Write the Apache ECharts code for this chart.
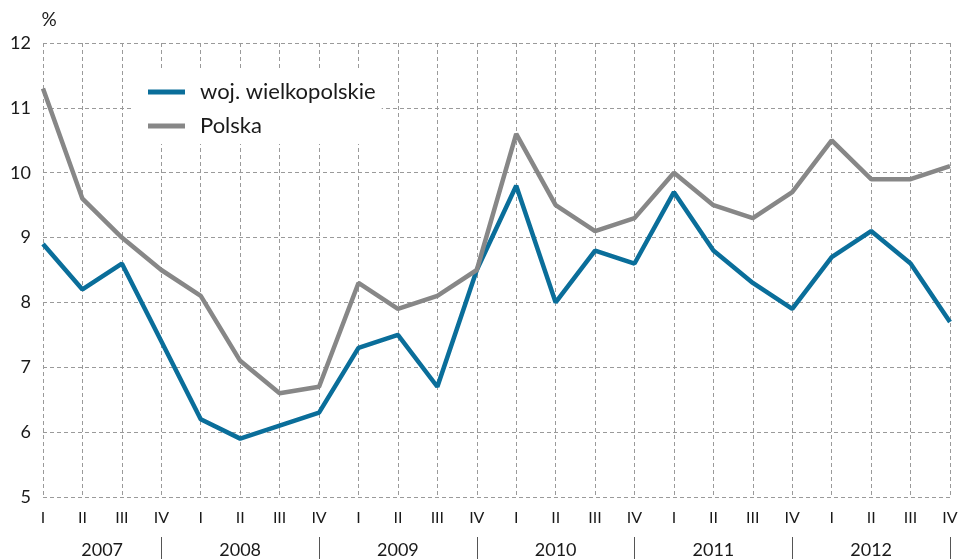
<!DOCTYPE html>
<html>
<head>
<meta charset="utf-8">
<script src="https://cdn.jsdelivr.net/npm/echarts@6/dist/echarts.min.js"></script>
<style>
  html, body { margin: 0; padding: 0; background: #fff; }
  #chart { width: 959px; height: 559px; }
</style>
</head>
<body>
<div id="chart"></div>
<script>
// quarters 2007 I - 2012 IV
var quarters = ['I', 'II', 'III', 'IV', 'I', 'II', 'III', 'IV', 'I', 'II', 'III', 'IV',
  'I', 'II', 'III', 'IV', 'I', 'II', 'III', 'IV', 'I', 'II', 'III', 'IV'];
var years = ['2007', '2008', '2009', '2010', '2011', '2012'];
// where each year label sits / where the separators are (in quarter index units)
var yearLabelPos = [1.5, 5, 9, 13, 17, 21];
var yearSepPos = [3, 7, 11, 15, 19, 23];

var wielkopolskie = [8.9, 8.2, 8.6, 7.4, 6.2, 5.9, 6.1, 6.3, 7.3, 7.5, 6.7, 8.5,
  9.8, 8.0, 8.8, 8.6, 9.7, 8.8, 8.3, 7.9, 8.7, 9.1, 8.6, 7.7];
var polska = [11.3, 9.6, 9.0, 8.5, 8.1, 7.1, 6.6, 6.7, 8.3, 7.9, 8.1, 8.5,
  10.6, 9.5, 9.1, 9.3, 10.0, 9.5, 9.3, 9.7, 10.5, 9.9, 9.9, 10.1];

var font = 'Lato, "Open Sans", sans-serif';
var txt = '#1a1a1a';
var chart = echarts.init(document.getElementById('chart'));

var option = {
  animation: false,
  textStyle: { fontFamily: font },
  grid: { left: 43, right: 9, top: 43, bottom: 62, outerBoundsMode: 'none' },
  legend: {
    left: 134,
    top: 68,
    orient: 'vertical',
    backgroundColor: '#fff',
    padding: [13, 6, 7, 14],
    itemGap: 12,
    itemWidth: 37,
    itemHeight: 5,
    icon: 'rect',
    textStyle: { fontSize: 22, color: txt, fontFamily: font, padding: [0, 0, 0, 10] },
    data: ['woj. wielkopolskie', 'Polska']
  },
  xAxis: [
    {
      type: 'category',
      boundaryGap: false,
      data: quarters,
      axisLine: { show: false },
      axisTick: { show: false },
      axisLabel: { interval: 0, margin: 13, fontSize: 16, color: txt, fontFamily: font },
      splitLine: { show: true, interval: 0, lineStyle: { type: [4, 3], color: '#9a9a9a', width: 1 } }
    },
    {
      type: 'value',
      min: 0,
      max: 23,
      position: 'bottom',
      offset: 40,
      axisLine: { show: false },
      axisTick: { show: true, customValues: yearSepPos, length: 22, lineStyle: { color: '#555', width: 1 } },
      axisLabel: {
        customValues: yearLabelPos,
        margin: 4,
        fontSize: 18,
        color: txt,
        fontFamily: font,
        formatter: function (v) {
          return years[yearLabelPos.indexOf(v)];
        }
      },
      splitLine: { show: false }
    }
  ],
  yAxis: {
    type: 'value',
    min: 5,
    max: 12,
    interval: 1,
    name: '%',
    nameLocation: 'end',
    nameGap: 14,
    nameTextStyle: { fontSize: 19, color: txt, fontFamily: font, padding: [0, 0, 0, 12] },
    axisLine: { show: false },
    axisTick: { show: false },
    axisLabel: { margin: 12, fontSize: 18, color: txt, fontFamily: font },
    splitLine: { show: true, lineStyle: { type: [4, 3], color: '#9a9a9a', width: 1 } }
  },
  series: [
    {
      name: 'woj. wielkopolskie',
      type: 'line',
      data: wielkopolskie,
      xAxisIndex: 0,
      symbol: 'none',
      lineStyle: { color: '#0a6e9a', width: 4.5 },
      itemStyle: { color: '#0a6e9a' }
    },
    {
      name: 'Polska',
      type: 'line',
      data: polska,
      xAxisIndex: 0,
      symbol: 'none',
      lineStyle: { color: '#878787', width: 4.5 },
      itemStyle: { color: '#878787' }
    }
  ]
};

chart.setOption(option);
</script>
</body>
</html>
